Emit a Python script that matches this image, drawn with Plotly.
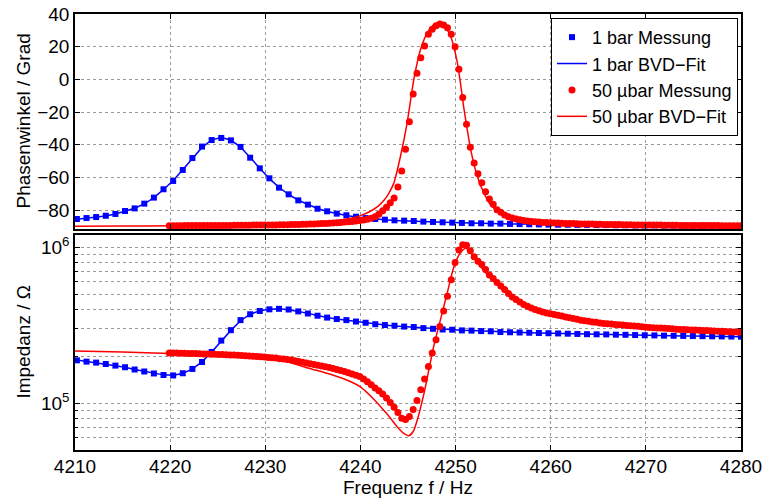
import numpy as np
import plotly.graph_objects as go

# ---------------- data ----------------
# 1 bar: measurement frequencies (Hz)
f_1bar = np.linspace(4210.2, 4280.0, 70)
phase_1bar = [-85.4, -84.8, -84.2, -83.4, -82.3, -80.5, -78.9, -76.0, -72.3, -67.2,
              -62.1, -55.4, -48.1, -41.1, -37.1, -35.8, -37.3, -41.3, -47.9, -54.4,
              -60.5, -66.2, -70.3, -74.0, -76.6, -79.1, -80.7, -82.1, -83.1, -84.0,
              -84.8, -85.4, -85.8, -86.2, -86.4, -86.6, -87.0, -87.2, -87.4, -87.6,
              -87.8, -88.0, -88.0, -88.2, -88.2, -88.4, -88.5, -88.6, -88.7, -88.8,
              -88.9, -88.9, -89.0, -89.0, -89.1, -89.1, -89.2, -89.2, -89.3, -89.3,
              -89.3, -89.4, -89.4, -89.4, -89.5, -89.5, -89.5, -89.6, -89.6, -89.6]
phase_fit_1bar = [-85.6, -85.0, -84.3, -83.5, -82.3, -80.6, -78.8, -76.1, -72.4, -67.3,
                  -61.8, -55.2, -48.2, -41.6, -37.0, -35.6, -37.1, -41.4, -47.8, -54.5,
                  -60.7, -66.0, -70.4, -73.9, -76.7, -79.0, -80.8, -82.2, -83.3, -84.2,
                  -84.9, -85.5, -85.9, -86.3, -86.6, -86.8, -87.0, -87.2, -87.4, -87.6,
                  -87.8, -87.9, -88.0, -88.2, -88.3, -88.4, -88.5, -88.6, -88.7, -88.8,
                  -88.9, -88.9, -89.0, -89.0, -89.1, -89.1, -89.2, -89.2, -89.3, -89.3,
                  -89.3, -89.4, -89.4, -89.4, -89.5, -89.5, -89.5, -89.6, -89.6, -89.6]
imp_1bar_e5 = [1.882, 1.846, 1.82, 1.783, 1.741, 1.699, 1.643, 1.596, 1.55, 1.515,
               1.505, 1.555, 1.657, 1.836, 2.13, 2.52, 2.94, 3.41, 3.72, 3.905,
               4.00, 4.03, 3.99, 3.88, 3.76, 3.64, 3.54, 3.465, 3.41, 3.34,
               3.28, 3.21, 3.17, 3.14, 3.10, 3.08, 3.03, 3.00, 2.97, 2.96,
               2.93, 2.92, 2.90, 2.89, 2.86, 2.85, 2.84, 2.83, 2.82, 2.81,
               2.80, 2.79, 2.78, 2.77, 2.765, 2.76, 2.75, 2.745, 2.735, 2.725,
               2.72, 2.71, 2.705, 2.70, 2.695, 2.69, 2.685, 2.68, 2.675, 2.67]
imp_fit_1bar_e5 = [1.89, 1.85, 1.82, 1.785, 1.745, 1.70, 1.645, 1.598, 1.553, 1.518,
                   1.51, 1.548, 1.66, 1.84, 2.13, 2.51, 2.93, 3.38, 3.72, 3.92,
                   4.01, 4.03, 3.98, 3.88, 3.76, 3.64, 3.54, 3.465, 3.40, 3.34,
                   3.28, 3.22, 3.17, 3.13, 3.10, 3.07, 3.03, 3.00, 2.975, 2.955,
                   2.935, 2.92, 2.90, 2.885, 2.865, 2.85, 2.84, 2.83, 2.82, 2.81,
                   2.80, 2.79, 2.78, 2.77, 2.765, 2.755, 2.75, 2.74, 2.735, 2.725,
                   2.72, 2.71, 2.705, 2.70, 2.695, 2.69, 2.685, 2.68, 2.675, 2.67]

# 50 µbar: measurement frequencies (Hz)
f_50ubar = np.linspace(4219.9, 4280.0, 151)
phase_50ubar = [-89.5, -89.5, -89.5, -89.5, -89.4, -89.4, -89.4, -89.4, -89.4, -89.4,
                -89.4, -89.3, -89.3, -89.3, -89.3, -89.3, -89.3, -89.2, -89.2, -89.2,
                -89.2, -89.2, -89.1, -89.1, -89.1, -89.1, -89.0, -89.0, -89.0, -88.9,
                -88.9, -88.9, -88.8, -88.8, -88.7, -88.6, -88.6, -88.5, -88.4, -88.3,
                -88.2, -88.1, -88.0, -87.9, -87.7, -87.5, -87.3, -87.1, -86.9, -86.6,
                -86.3, -86.0, -85.6, -85.0, -84.0, -82.5, -80.3, -78.2, -75.4, -72.5,
                -65.8, -56.0, -42.8, -25.9, -8.9, 3.7, 13.2, 20.4, 27.6, 30.6,
                32.8, 33.9, 33.3, 31.6, 27.6, 20.0, 6.2, -11.0, -27.5, -41.5,
                -51.1, -57.7, -63.2, -68.7, -73.1, -76.4, -79.7, -81.3, -82.9, -84.0,
                -84.8, -85.4, -85.9, -86.3, -86.6, -86.9, -87.1, -87.3, -87.5, -87.6,
                -87.7, -87.8, -87.9, -88.0, -88.1, -88.2, -88.2, -88.3, -88.4, -88.4,
                -88.5, -88.5, -88.6, -88.6, -88.7, -88.7, -88.8, -88.8, -88.8, -88.9,
                -88.9, -88.9, -89.0, -89.0, -89.0, -89.0, -89.1, -89.1, -89.1, -89.1,
                -89.2, -89.2, -89.2, -89.2, -89.3, -89.3, -89.3, -89.3, -89.3, -89.4,
                -89.4, -89.4, -89.4, -89.4, -89.4, -89.5, -89.5, -89.5, -89.5, -89.5, -89.5]
imp_50ubar_e5 = [2.10, 2.10, 2.095, 2.09, 2.09, 2.085, 2.08, 2.08, 2.075, 2.07,
                 2.065, 2.06, 2.06, 2.055, 2.05, 2.045, 2.04, 2.035, 2.03, 2.02,
                 2.015, 2.01, 2.00, 1.99, 1.985, 1.975, 1.965, 1.955, 1.945, 1.93,
                 1.92, 1.905, 1.89, 1.87, 1.85, 1.83, 1.81, 1.79, 1.77, 1.75,
                 1.73, 1.71, 1.69, 1.665, 1.645, 1.62, 1.595, 1.565, 1.535, 1.51,
                 1.48, 1.43, 1.37, 1.31, 1.25, 1.20, 1.145, 1.08, 1.01, 0.94,
                 0.87, 0.80, 0.785, 0.82, 0.91, 1.04, 1.22, 1.43, 1.72, 2.10,
                 2.55, 3.10, 3.90, 4.85, 6.2, 8.0, 9.6, 10.4, 10.3, 9.5,
                 8.7, 8.15, 7.75, 7.2, 6.65, 6.3, 5.95, 5.65, 5.37, 5.05,
                 4.80, 4.62, 4.45, 4.30, 4.18, 4.08, 3.99, 3.91, 3.84, 3.79,
                 3.75, 3.71, 3.66, 3.62, 3.57, 3.53, 3.49, 3.45, 3.41, 3.38,
                 3.35, 3.32, 3.30, 3.27, 3.25, 3.23, 3.215, 3.20, 3.185, 3.17,
                 3.155, 3.14, 3.125, 3.11, 3.09, 3.07, 3.06, 3.05, 3.04, 3.03,
                 3.02, 3.01, 3.00, 2.985, 2.97, 2.965, 2.96, 2.95, 2.945, 2.94,
                 2.93, 2.925, 2.915, 2.90, 2.895, 2.89, 2.88, 2.875, 2.865, 2.86, 2.85]

# 50 µbar BVD fit (phase)
f_fit_phase_50ubar = [4210, 4215, 4220, 4225, 4230, 4233, 4235, 4237, 4238, 4239,
                      4240, 4241, 4241.8, 4242.5, 4243, 4243.5, 4244.2, 4244.9, 4245.6, 4246.3,
                      4247.0, 4247.7, 4248.25, 4248.8, 4249.5, 4250.2, 4250.9, 4251.6, 4252.3, 4253.0,
                      4253.7, 4254.7, 4255.8, 4257, 4258, 4260, 4263, 4267, 4272, 4280]
phase_fit_50ubar = [-89.8, -89.7, -89.5, -89.3, -88.9, -88.4, -87.9, -86.9, -86.0, -84.9,
                    -83.3, -80.8, -77.8, -73.8, -69.5, -63.6, -47.3, -26.9, -0.4, 18.0,
                    28.2, 33.3, 34.7, 33.3, 26.1, 9.8, -18.7, -43.2, -59.5, -69.7,
                    -76.8, -81.9, -85.0, -86.8, -87.6, -88.4, -89.0, -89.3, -89.5, -89.7]
# 50 µbar BVD fit (impedance)
f_fit_imp_50ubar = [4210, 4215, 4220, 4225, 4228, 4230, 4232, 4234.7, 4237, 4239,
                    4240, 4241.4, 4242.8, 4243.9, 4244.6, 4245.1, 4245.6, 4246.1, 4246.7, 4247.2,
                    4247.7, 4248.4, 4249.1, 4249.8, 4250.5, 4251.05, 4251.6, 4252.3, 4253.3, 4254.7,
                    4256, 4258, 4260, 4265, 4270, 4275, 4280]
imp_fit_50ubar_e5 = [2.157, 2.13, 2.08, 2.02, 1.97, 1.93, 1.86, 1.667, 1.52, 1.37,
                     1.27, 1.06, 0.851, 0.700, 0.636, 0.618, 0.667, 0.83, 1.167, 1.643,
                     2.31, 3.41, 5.03, 7.42, 9.24, 9.85, 9.25, 8.0, 6.73, 5.54,
                     4.70, 4.00, 3.70, 3.28, 3.05, 2.93, 2.85]

x_ticks = [4210, 4220, 4230, 4240, 4250, 4260, 4270, 4280]
phase_ticks = [-80, -60, -40, -20, 0, 20, 40]
imp_major = [1e5, 1e6]
imp_major_text = ["10<sup>5</sup>", "10<sup>6</sup>"]
imp_minor = [6e4, 7e4, 8e4, 9e4, 2e5, 3e5, 4e5, 5e5, 6e5, 7e5, 8e5, 9e5]

BLUE = "#0000ff"
RED = "#ff0000"


def e5(vals):
    return [v * 1e5 for v in vals]


fig = go.Figure()

# top panel (phase)
fig.add_trace(go.Scatter(x=f_1bar, y=phase_1bar, mode="markers", name="1 bar Messung",
                         marker=dict(symbol="square", size=6, color=BLUE),
                         xaxis="x", yaxis="y"))
fig.add_trace(go.Scatter(x=f_1bar, y=phase_fit_1bar, mode="lines", name="1 bar BVD−Fit",
                         line=dict(color=BLUE, width=1.5), xaxis="x", yaxis="y"))
fig.add_trace(go.Scatter(x=f_50ubar, y=phase_50ubar, mode="markers", name="50 µbar Messung",
                         marker=dict(symbol="circle", size=7, color=RED),
                         xaxis="x", yaxis="y"))
fig.add_trace(go.Scatter(x=f_fit_phase_50ubar, y=phase_fit_50ubar, mode="lines",
                         name="50 µbar BVD−Fit", line=dict(color=RED, width=1.5, shape="spline", smoothing=0.6),
                         xaxis="x", yaxis="y"))

# bottom panel (impedance)
fig.add_trace(go.Scatter(x=f_1bar, y=e5(imp_1bar_e5), mode="markers", showlegend=False,
                         marker=dict(symbol="square", size=6, color=BLUE),
                         xaxis="x2", yaxis="y2"))
fig.add_trace(go.Scatter(x=f_1bar, y=e5(imp_fit_1bar_e5), mode="lines", showlegend=False,
                         line=dict(color=BLUE, width=1.5), xaxis="x2", yaxis="y2"))
fig.add_trace(go.Scatter(x=f_50ubar, y=e5(imp_50ubar_e5), mode="markers", showlegend=False,
                         marker=dict(symbol="circle", size=7, color=RED),
                         xaxis="x2", yaxis="y2"))
fig.add_trace(go.Scatter(x=f_fit_imp_50ubar, y=e5(imp_fit_50ubar_e5), mode="lines", showlegend=False,
                         line=dict(color=RED, width=1.5, shape="spline", smoothing=0.6),
                         xaxis="x2", yaxis="y2"))

axis_common = dict(showline=True, linecolor="black", linewidth=1.5, mirror="ticks",
                   ticks="inside", ticklen=5, tickwidth=1, tickcolor="black",
                   showgrid=True, gridcolor="#9a9a9a", griddash="dot", gridwidth=1,
                   zeroline=False, automargin=False)

top_dom = [0.5069, 1.0]
bot_dom = [0.0, 0.4931]

fig.update_layout(
    width=765, height=499, autosize=False,
    margin=dict(l=75, r=24, t=14, b=49, autoexpand=False),
    paper_bgcolor="white", plot_bgcolor="white",
    font=dict(family="Liberation Sans, Arial, sans-serif", size=19, color="black"),
    xaxis=dict(axis_common, domain=[0, 1], anchor="y", range=[4210, 4280],
               tickvals=x_ticks, showticklabels=False),
    yaxis=dict(axis_common, domain=top_dom, anchor="x", range=[-91.5, 40],
               tickvals=phase_ticks),
    xaxis2=dict(axis_common, domain=[0, 1], anchor="y2", range=[4210, 4280],
                tickvals=x_ticks, matches="x", ticklabelstandoff=-2),
    yaxis2=dict(axis_common, domain=bot_dom, anchor="x2", type="log",
                range=[np.log10(5e4), np.log10(1.2e6)],
                tickmode="array", tickvals=imp_major, ticktext=imp_major_text,
                minor=dict(tickmode="array", tickvals=imp_minor, ticks="inside", ticklen=3,
                           tickcolor="black", showgrid=True, gridcolor="#9a9a9a",
                           griddash="dot", gridwidth=1)),
    legend=dict(x=0.9955, xanchor="right", y=0.991, yanchor="top",
                bordercolor="black", borderwidth=1, bgcolor="white",
                font=dict(size=18), tracegroupgap=0, itemwidth=30),
    showlegend=True,
)

fig.add_annotation(text="Phasenwinkel / Grad", xref="paper", yref="paper",
                   x=-0.078, y=(top_dom[0] + top_dom[1]) / 2, textangle=-90,
                   showarrow=False, xanchor="center", yanchor="middle", font=dict(size=19))
fig.add_annotation(text="Impedanz / Ω", xref="paper", yref="paper",
                   x=-0.078, y=(bot_dom[0] + bot_dom[1]) / 2, textangle=-90,
                   showarrow=False, xanchor="center", yanchor="middle", font=dict(size=19))
fig.add_annotation(text="Frequenz f / Hz", xref="paper", yref="paper",
                   x=0.5, y=-0.086, showarrow=False, xanchor="center", yanchor="middle",
                   font=dict(size=19))

fig.write_html("out.html", config={"responsive": False, "displayModeBar": False},
               post_script="document.body.style.margin='0';document.body.style.overflow='hidden';")
